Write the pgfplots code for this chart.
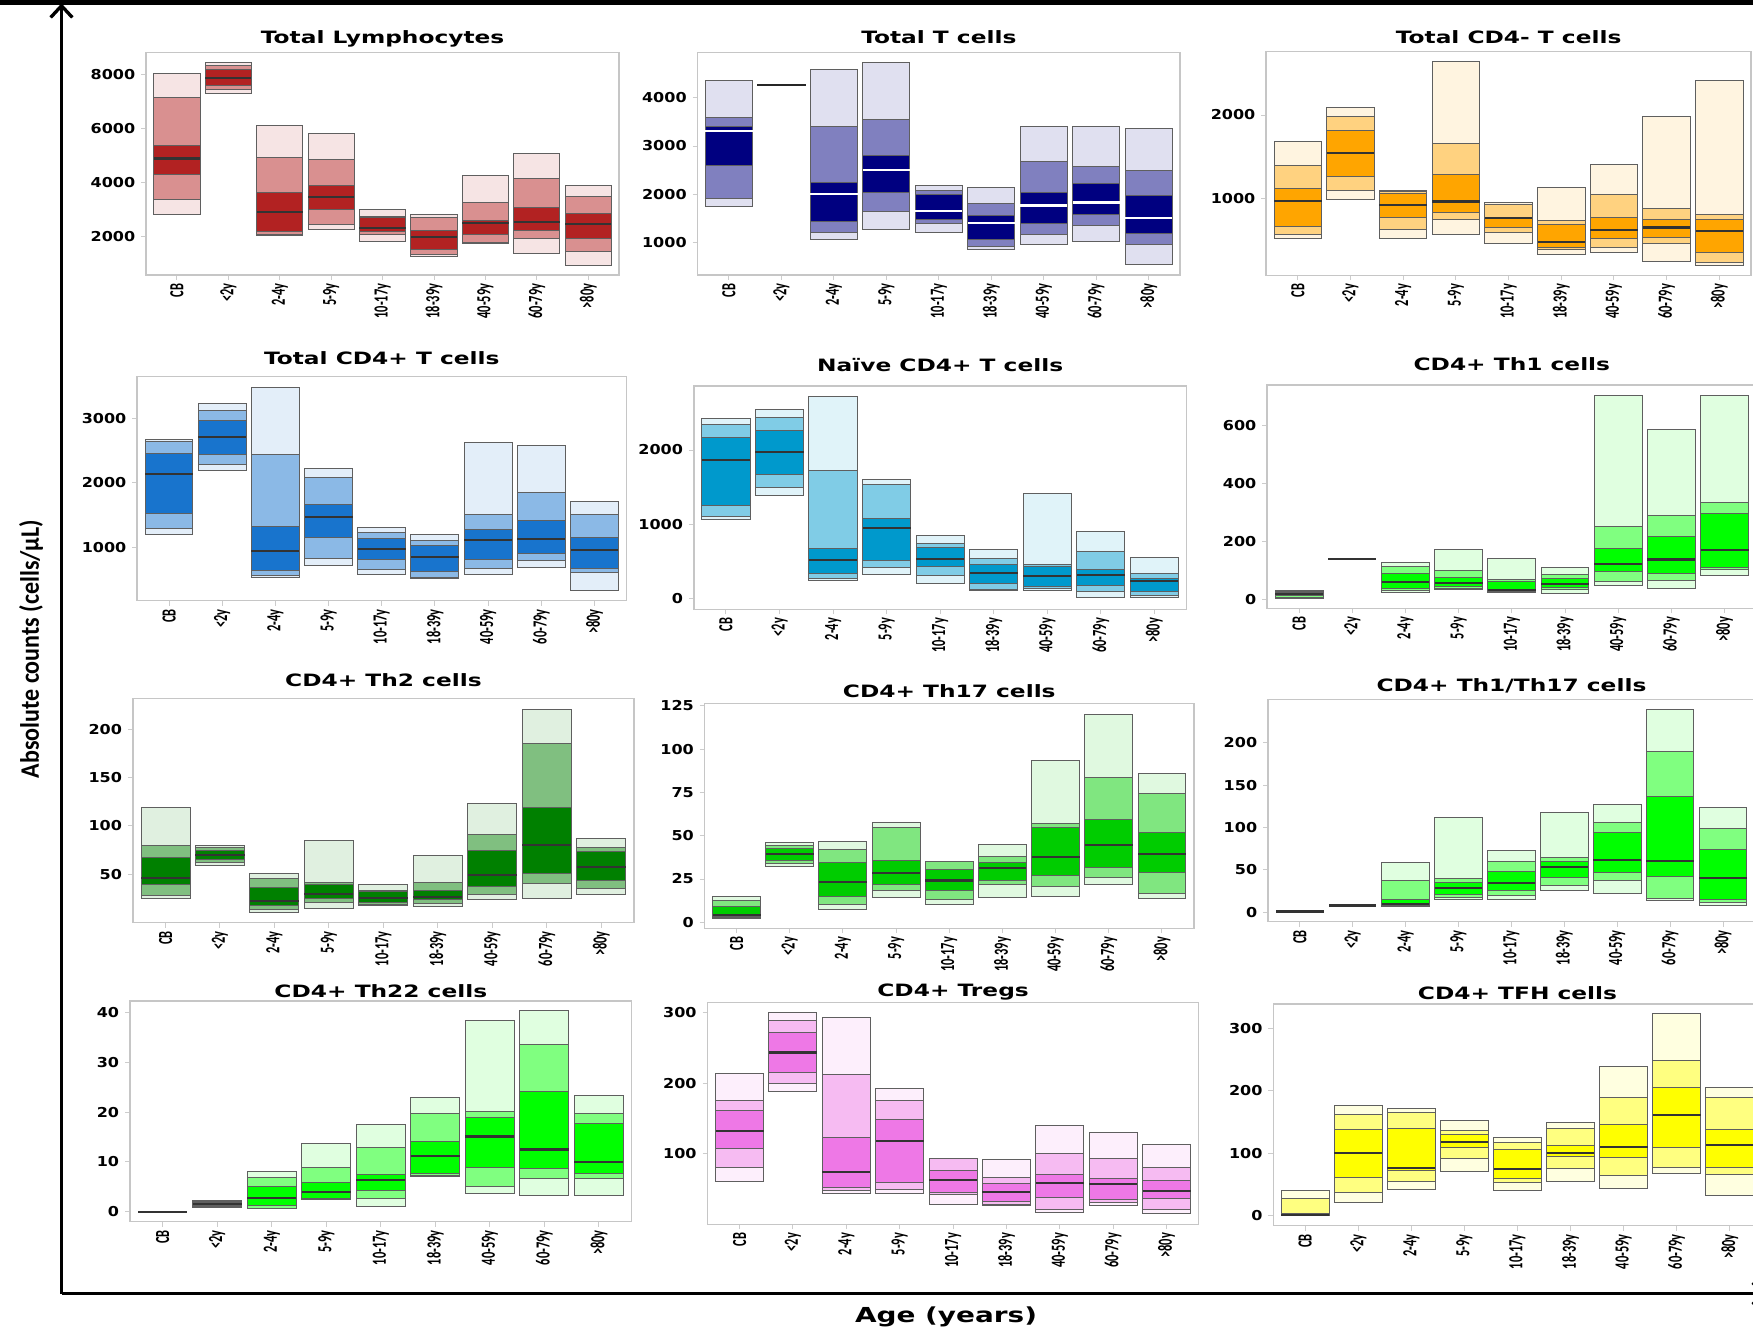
\documentclass[border=0pt]{standalone}
\usepackage{fontspec}
\usepackage{pgfplots}
\usepackage{pgfplotstable}
\pgfplotsset{compat=1.18}
\usetikzlibrary{arrows.meta}
\setmainfont{DejaVu Sans}
\newfontfamily\titlefont[FakeStretch=1.37]{DejaVu Sans}
\newfontfamily\tickfont[FakeStretch=1.17]{DejaVu Sans}
\newfontfamily\catfont[FakeStretch=0.62]{Carlito}
\newfontfamily\bigfont[FakeStretch=0.9]{Carlito}
\newfontfamily\agefont[FakeStretch=1.35]{DejaVu Sans}

\definecolor{lymD}{RGB}{178,34,34}
\definecolor{tD}{RGB}{0,0,128}
\definecolor{cdmD}{RGB}{255,165,0}
\definecolor{cdpD}{RGB}{24,116,205}
\definecolor{naiD}{RGB}{0,153,204}
\definecolor{limeD}{RGB}{0,255,0}
\definecolor{thtwoD}{RGB}{0,128,0}
\definecolor{thsevD}{RGB}{0,204,0}
\definecolor{tregD}{RGB}{238,120,230}
\definecolor{tfhD}{RGB}{255,255,0}
\definecolor{bcol}{RGB}{95,95,95}

% columns: x lo p10 p25 med p75 p90 hi
\pgfplotstableread{
x lo p10 p25 med p75 p90 hi
0 2810 3370 4300 4900 5390 7170 8040
1 7320 7470 7600 7890 8190 8350 8470
2 2020 2060 2170 2900 3640 4940 6110
3 2270 2430 2990 3470 3880 4870 5830
4 1800 2080 2180 2320 2700 2740 3010
5 1240 1315 1500 1980 2230 2710 2810
6 1750 1770 2080 2500 2600 3250 4250
7 1380 1920 2220 2530 3070 4150 5070
8 930 1430 1920 2450 2860 3480 3900
}\tLym
\pgfplotstableread{
x lo p10 p25 med p75 p90 hi
0 1740 1920 2590 3310 3410 3590 4360
1 4260 4260 4260 4260 4260 4260 4260
2 1055 1215 1440 2010 2240 3410 4590
3 1280 1640 2040 2500 2810 3540 4730
4 1210 1400 1470 1660 1990 2070 2190
5 850 910 1055 1410 1560 1810 2145
6 970 1160 1400 1770 2030 2680 3400
7 1030 1360 1590 1830 2230 2570 3400
8 540 965 1190 1510 1970 2500 3370
}\tT
\pgfplotstableread{
x lo p10 p25 med p75 p90 hi
0 530 575 670 975 1120 1400 1685
1 990 1105 1270 1545 1815 1980 2090
2 530 640 780 930 1070 1090 1105
3 575 760 845 970 1290 1665 2635
4 475 600 665 775 785 937 960
5 340 395 420 490 700 740 1135
6 360 420 530 635 780 1055 1415
7 255 470 545 660 750 885 1980
8 210 245 360 615 750 820 2415
}\tCDm
\pgfplotstableread{
x lo p10 p25 med p75 p90 hi
0 1200 1290 1525 2140 2450 2640 2675
1 2190 2285 2440 2710 2970 3125 3235
2 530 565 630 935 1320 2435 3480
3 710 825 1145 1470 1665 2075 2225
4 570 655 810 970 1135 1230 1300
5 515 520 620 845 1025 1105 1200
6 575 665 810 1115 1265 1510 2620
7 685 795 895 1130 1415 1850 2575
8 330 605 660 955 1155 1510 1710
}\tCDp
\pgfplotstableread{
x lo p10 p25 med p75 p90 hi
0 1065 1105 1255 1865 2175 2340 2420
1 1385 1500 1670 1970 2265 2435 2550
2 235 265 337 512 675 1725 2720
3 325 410 505 953 1080 1530 1600
4 195 310 427 535 683 733 845
5 108 126 198 346 458 540 660
6 112 135 166 306 427 458 1415
7 5 90 171 310 395 638 900
8 5 36 90 234 270 342 557
}\tNai
\pgfplotstableread{
x lo p10 p25 med p75 p90 hi
0 3 8 12 17 24 28 30
1 138 138 138 138 138 138 138
2 25 30 38 60 88 112 127
3 34 39 45 56 76 99 171
4 25 27 29 31 60 67 141
5 21 35 40 53 72 84 110
6 48 63 95 123 176 250 701
7 38 64 88 137 217 289 584
8 81 104 111 170 294 334 701
}\tThone
\pgfplotstableread{
x lo p10 p25 med p75 p90 hi
0 25.5 28.6 39 46.5 67.5 80.3 118.8
1 59.6 62.7 65.5 70 74.7 77.5 79.6
2 10.7 13.5 17.6 22.8 36.5 45.8 51.3
3 14.9 21.1 24.5 30 39.3 41.7 85.1
4 17.6 19 21 25.2 32 33 39
5 17.1 19.7 23.8 26.2 33.1 41.7 69.6
6 24.2 29 37.6 49.3 74.4 91.3 123.3
7 24.9 41 51 80.6 119.1 185.5 220.6
8 29.3 35.5 44.1 57.2 73.7 77.8 87.5
}\tThtwo
\pgfplotstableread{
x lo p10 p25 med p75 p90 hi
0 2.3 2.7 3.5 4.4 9.4 12.5 14.8
1 32.5 33.9 35.8 39.5 42.8 44.5 46.2
2 7.3 10 14.8 23.1 34.7 42.2 46.4
3 14.1 18.3 22 28.5 35.8 54.5 57.6
4 10.2 13.1 18.3 24.1 30.6 35 35.1
5 14.4 22 24.1 31.4 34.5 38.3 45.1
6 14.8 20.8 27.2 37.6 54.5 56.8 93.4
7 22 26 31.8 44.5 59.5 83.6 120.2
8 13.7 16.6 28.7 39.5 51.8 74.2 86.1
}\tThsev
\pgfplotstableread{
x lo p10 p25 med p75 p90 hi
0 1 1 1 1 1 1 1
1 8 8 8 8 8 8 8
2 7.1 7.5 8.6 10.2 15.3 37.7 59.3
3 15.7 17.7 20.8 29.1 35.4 39.7 112
4 15.7 19.7 26.3 35 48.3 59.7 72.7
5 25.5 31.8 41.3 53.8 59.7 64.5 117.9
6 22.4 37.3 46.8 61.7 94.3 106.1 126.9
7 13.4 16.9 41.7 60.1 136.4 189.4 239.3
8 7.9 11.8 14.9 40.5 73.9 98.6 123.8
}\tThoneseven
\pgfplotstableread{
x lo p10 p25 med p75 p90 hi
0 0 0 0 0 0 0 0
1 0.9 1.0 1.3 1.6 1.9 2.1 2.3
2 0.6 0.7 1.3 2.7 5.1 6.9 8.0
3 2.5 2.6 2.7 4.0 5.8 8.9 13.6
4 1.1 2.7 4.2 6.4 7.4 12.9 17.5
5 7.1 7.2 7.6 11.2 14.1 19.7 23.0
6 3.6 5.1 8.9 15.1 18.9 20.1 38.4
7 3.3 6.7 8.7 12.5 24.2 33.5 40.3
8 3.3 6.7 7.6 9.9 17.7 19.7 23.4
}\tThtt
\pgfplotstableread{
x lo p10 p25 med p75 p90 hi
0 61.3 81.1 107.5 132.1 161.8 175 213.7
1 187.7 199.1 215.1 243.4 271.7 289.2 300
2 43.4 47.6 52.4 74.5 122.6 212.7 292.5
3 44.3 49.5 59.4 118.4 149.1 175.5 192.5
4 28.3 42 44.8 63.2 76.9 93.5 93.9
5 26 27.8 32.5 46.2 58 67 92.5
6 17 21.7 37.7 59 70.3 101 140.6
7 27.4 31.1 35.9 57.1 65.6 93.9 130.7
8 15.1 21.3 36.8 46.7 62.3 80.7 113.2
}\tTreg
\pgfplotstableread{
x lo p10 p25 med p75 p90 hi
0 0 0 0.3 1 3 27 40
1 21.4 37.4 61.4 99.9 138.8 161.8 176.8
2 41.7 55 71.6 76.4 139.4 165.5 171.4
3 70.5 92.4 108.9 118 130.8 136.2 152.7
4 40.6 53.9 59.8 74.8 106.3 117 125.5
5 54.5 75.3 94.5 99.9 112.1 139.4 149
6 44.3 65.1 93.5 110.5 146.3 189.6 239.2
7 67.3 76.4 109.5 161.8 205.6 248.8 323.6
8 32.6 66.2 76.9 112.7 138.3 189 205.6
}\tTfh

% boxes stacked from the percentiles; the median is drawn as a horizontal
% error bar on an unstacked plot
\newcommand{\boxplots}[3]{%
  \addplot[draw=none,fill=none] table[x=x,y=lo]{#1};
  \addplot[fill=#2!12,draw=bcol,line width=0.6pt] table[x=x,y expr=\thisrow{p10}-\thisrow{lo}]{#1};
  \addplot[fill=#2!50,draw=bcol,line width=0.6pt] table[x=x,y expr=\thisrow{p25}-\thisrow{p10}]{#1};
  \addplot[fill=#2,draw=bcol,line width=0.6pt] table[x=x,y expr=\thisrow{p75}-\thisrow{p25}]{#1};
  \addplot[fill=#2!50,draw=bcol,line width=0.6pt] table[x=x,y expr=\thisrow{p90}-\thisrow{p75}]{#1};
  \addplot[fill=#2!12,draw=bcol,line width=0.6pt] table[x=x,y expr=\thisrow{hi}-\thisrow{p90}]{#1};
  \addplot[stack plots=false,draw=none,fill=none,error bars/.cd,x dir=both,x fixed=0.45,error mark=none,
    error bar style={draw=#3,line width=1.3pt}] table[x=x,y=med]{#1};
}

\pgfplotsset{panel/.style={
  anchor=north west, scale only axis, ybar stacked, reverse stacked plots=false, bar width=0.9,
  xmin=-0.6, xmax=8.6, enlargelimits=false,
  xtick={0,1,2,3,4,5,6,7,8},
  xticklabels={CB,<2y,2-4y,5-9y,10-17y,18-39y,40-59y,60-79y,>80y},
  xtick pos=bottom, ytick pos=left, tick align=outside, major tick length=3pt,
  tick style={gray!40, line width=0.6pt},
  axis line style={gray!45, line width=0.9pt},
  xticklabel style={rotate=90, anchor=east, font=\catfont\bfseries\fontsize{12}{13}\selectfont, inner sep=2pt},
  yticklabel style={font=\tickfont\bfseries\fontsize{8.2}{9}\selectfont},
  /pgf/number format/assume math mode=true, /pgf/number format/1000 sep={},
  scaled y ticks=false,
  title style={font=\titlefont\bfseries\fontsize{10.2}{12}\selectfont, at={(0.5,1)}, anchor=base},
}}

\begin{document}
\begin{tikzpicture}
\useasboundingbox (0pt,0pt) rectangle (1051.8pt,-795.6pt);
\fill[black] (0pt,0pt) rectangle (1051.8pt,-3pt);

\begin{axis}[panel, at={(87.66pt,-31.38pt)}, width=283.8pt, height=133.6pt,
  ymin=570, ymax=8842, ytick={2000,4000,6000,8000},
  title={Total Lymphocytes}, title style={yshift=-0.6pt}]
\boxplots{\tLym}{lymD}{black!80}
\end{axis}

\begin{axis}[panel, at={(418.5pt,-31.38pt)}, width=289.6pt, height=133.6pt,
  ymin=330, ymax=4940, ytick={1000,2000,3000,4000},
  title={Total T cells}, title style={yshift=-0.9pt}]
\boxplots{\tT}{tD}{white}
\addplot[stack plots=false,draw=none,fill=none,error bars/.cd,x dir=both,x fixed=0.47,error mark=none,
    error bar style={draw=black!85,line width=1.3pt}] coordinates {(1,4260)};
\end{axis}

\begin{axis}[panel, at={(759.7pt,-31.0pt)}, width=290.9pt, height=134.2pt,
  ymin=91, ymax=2754, ytick={1000,2000},
  title={Total CD4- T cells}, title style={yshift=-0.9pt}]
\boxplots{\tCDm}{cdmD}{black!80}
\end{axis}

\begin{axis}[panel, at={(82.3pt,-226.0pt)}, width=293.5pt, height=134.4pt,
  ymin=166, ymax=3648, ytick={1000,2000,3000},
  title={Total CD4+ T cells}, title style={yshift=1.2pt}]
\boxplots{\tCDp}{cdpD}{black!80}
\end{axis}

\begin{axis}[panel, at={(416.3pt,-231.6pt)}, width=295.6pt, height=134.0pt,
  ymin=-148, ymax=2863, ytick={0,1000,2000},
  title={Naïve CD4+ T cells}, title style={yshift=2.7pt}]
\boxplots{\tNai}{naiD}{black!80}
\end{axis}

\begin{axis}[panel, at={(760.3pt,-231.0pt)}, width=293.6pt, height=134.0pt,
  ymin=-31, ymax=738, ytick={0,200,400,600},
  title={CD4+ Th1 cells}, title style={yshift=3pt}]
\boxplots{\tThone}{limeD}{black!80}
\end{axis}

\begin{axis}[panel, at={(79.7pt,-419.0pt)}, width=300.7pt, height=134.6pt,
  ymin=0, ymax=232, ytick={50,100,150,200},
  title={CD4+ Th2 cells}, title style={yshift=0.9pt}]
\boxplots{\tThtwo}{thtwoD}{black!80}
\end{axis}

\begin{axis}[panel, at={(422.8pt,-422.0pt)}, width=293.5pt, height=135.0pt,
  ymin=-3.5, ymax=126.5, ytick={0,25,50,75,100,125},
  title={CD4+ Th17 cells}, title style={yshift=-2.7pt}]
\boxplots{\tThsev}{thsevD}{black!80}
\end{axis}

\begin{axis}[panel, at={(760.8pt,-419.6pt)}, width=292.1pt, height=133.4pt,
  ymin=-11, ymax=251, ytick={0,50,100,150,200},
  title={CD4+ Th1/Th17 cells}, title style={yshift=-1.5pt}]
\boxplots{\tThoneseven}{limeD}{black!80}
\end{axis}

\begin{axis}[panel, at={(78.0pt,-600.6pt)}, width=301.0pt, height=132.4pt,
  ymin=-2, ymax=42.3, ytick={0,10,20,30,40},
  title={CD4+ Th22 cells}, title style={yshift=-3.9pt}]
\boxplots{\tThtt}{limeD}{black!80}
\end{axis}

\begin{axis}[panel, at={(424.5pt,-601.6pt)}, width=294.7pt, height=133.0pt,
  ymin=0, ymax=314, ytick={100,200,300},
  title={CD4+ Tregs}, title style={yshift=-2.4pt}]
\boxplots{\tTreg}{tregD}{black!80}
\end{axis}

\begin{axis}[panel, at={(764.0pt,-602.4pt)}, width=293.0pt, height=133.0pt,
  ymin=-16, ymax=339, ytick={0,100,200,300},
  title={CD4+ TFH cells}, title style={yshift=-3pt}]
\boxplots{\tTfh}{tfhD}{black!80}
\end{axis}

\draw[line width=2pt, -{Straight Barb[length=7pt,width=13pt]}] (36.9pt,-776.1pt) -- (36.9pt,-2pt);
\draw[line width=2pt, -{Straight Barb[length=7pt,width=13pt]}] (36.9pt,-776.1pt) -- (1060pt,-776.1pt);
\node[rotate=90, font=\bigfont\bfseries\fontsize{16}{18}\selectfont] at (18.6pt,-389.4pt) {Absolute counts (cells/µL)};
\node[anchor=base, font=\agefont\bfseries\fontsize{12.4}{14}\selectfont] at (567.6pt,-793.2pt) {Age (years)};
\end{tikzpicture}
\end{document}
